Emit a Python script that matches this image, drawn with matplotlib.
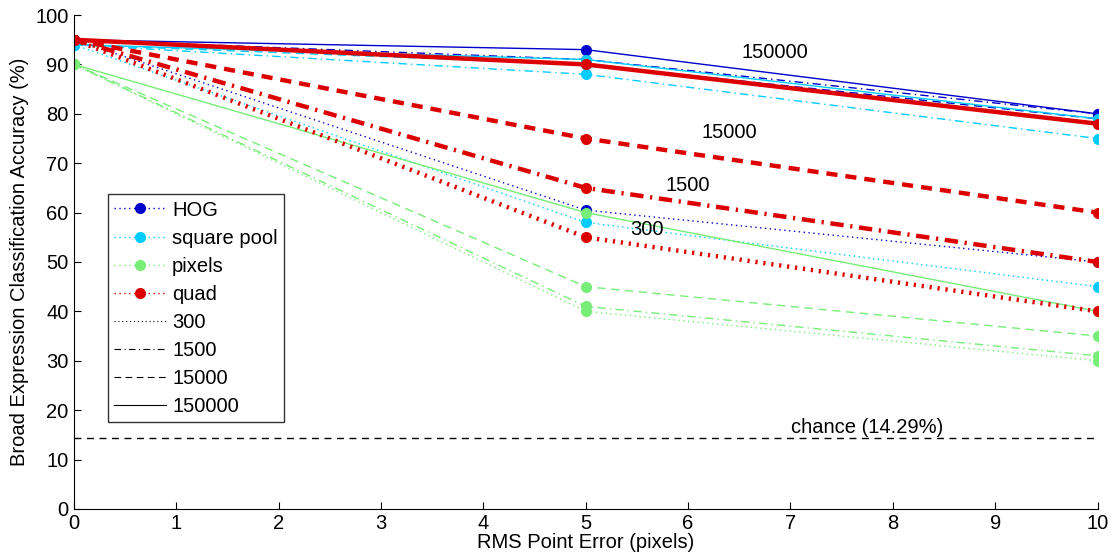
import matplotlib
matplotlib.use("Agg")
import matplotlib.pyplot as plt
from matplotlib.lines import Line2D

plt.rcParams['font.family'] = ['Liberation Sans', 'DejaVu Sans']

# RMS point error (pixels)
x = [0, 5, 10]

# accuracy (%) per feature type and training set size
hog_300 = [95, 60.5, 50]
hog_1500 = [95, 91, 80]
hog_15000 = [95, 90, 79]
hog_150000 = [95, 93, 80]

sq_300 = [94, 58, 45]
sq_1500 = [94, 88, 75]
sq_15000 = [94, 90, 78]
sq_150000 = [94, 91, 79]

px_300 = [90, 40, 30]
px_1500 = [90, 41, 31]
px_15000 = [90, 45, 35]
px_150000 = [90, 60, 40]

quad_300 = [95, 55, 40]
quad_1500 = [95, 65, 50]
quad_15000 = [95, 75, 60]
quad_150000 = [95, 90, 78]

chance = 14.29
features = ['HOG', 'square pool', 'pixels', 'quad']
sizes = ['300', '1500', '15000', '150000']

c_hog = '#0000CC'
c_sq = '#00CCFF'
c_px = '#77EE77'
c_quad = '#DD0000'

ls = {'300': (0, (1, 2.5)), '1500': (0, (6, 3, 1, 3)),
      '15000': (0, (6, 4)), '150000': '-'}
ls_quad = {'300': (0, (0.5, 1.3)), '1500': (0, (3, 1.5, 0.5, 1.5)),
           '15000': (0, (2.5, 1.8)), '150000': '-'}

fig = plt.figure(figsize=(11.12, 5.58), dpi=100)
ax = fig.add_axes([0.0665, 0.088, 0.9205, 0.885])

ax.axhline(chance, color='black', ls=(0, (5, 4)), lw=1)

for series, col in [([hog_300, hog_1500, hog_15000, hog_150000], c_hog),
                    ([sq_300, sq_1500, sq_15000, sq_150000], c_sq),
                    ([px_300, px_1500, px_15000, px_150000], c_px)]:
    for s, y in zip(sizes, series):
        ax.plot(x, y, color=col, ls=ls[s], lw=1, marker='o', ms=7, mec=col, mfc=col)

for s, y in zip(sizes, [quad_300, quad_1500, quad_15000, quad_150000]):
    ax.plot(x, y, color=c_quad, ls=ls_quad[s], lw=3.2, marker='o', ms=7,
            mec=c_quad, mfc=c_quad)

ax.text(6.85, 92.5, '150000', fontsize=14.5, ha='center', va='center')
ax.text(6.4, 76.2, '15000', fontsize=14.5, ha='center', va='center')
ax.text(6.0, 65.5, '1500', fontsize=14.5, ha='center', va='center')
ax.text(5.6, 56.5, '300', fontsize=14.5, ha='center', va='center')
ax.text(7.75, 16.5, 'chance (14.29%)', fontsize=14.5, ha='center', va='center')

ax.set_xlim(0, 10)
ax.set_ylim(0, 100)
ax.set_xticks(range(0, 11))
ax.set_yticks(range(0, 101, 10))
ax.tick_params(direction='in', length=5, labelsize=14.5, pad=4)
ax.spines['top'].set_visible(False)
ax.spines['right'].set_visible(False)
ax.set_xlabel('RMS Point Error (pixels)', fontsize=14.5, labelpad=0)
ax.set_ylabel('Broad Expression Classification Accuracy (%)', fontsize=14.5, labelpad=4)

handles = [Line2D([], [], color=c, ls=ls['300'], lw=1, marker='o', ms=7)
           for c in [c_hog, c_sq, c_px, c_quad]]
handles += [Line2D([], [], color='black', ls=ls[s], lw=0.8) for s in sizes]
ax.legend(handles, features + sizes, loc='lower left', bbox_to_anchor=(0.033, 0.176),
          fontsize=14.5, frameon=True, fancybox=False, edgecolor='black',
          borderpad=0.3, labelspacing=0.45, handlelength=2.6, handletextpad=0.3,
          borderaxespad=0)

fig.savefig('out.png', dpi=100)
